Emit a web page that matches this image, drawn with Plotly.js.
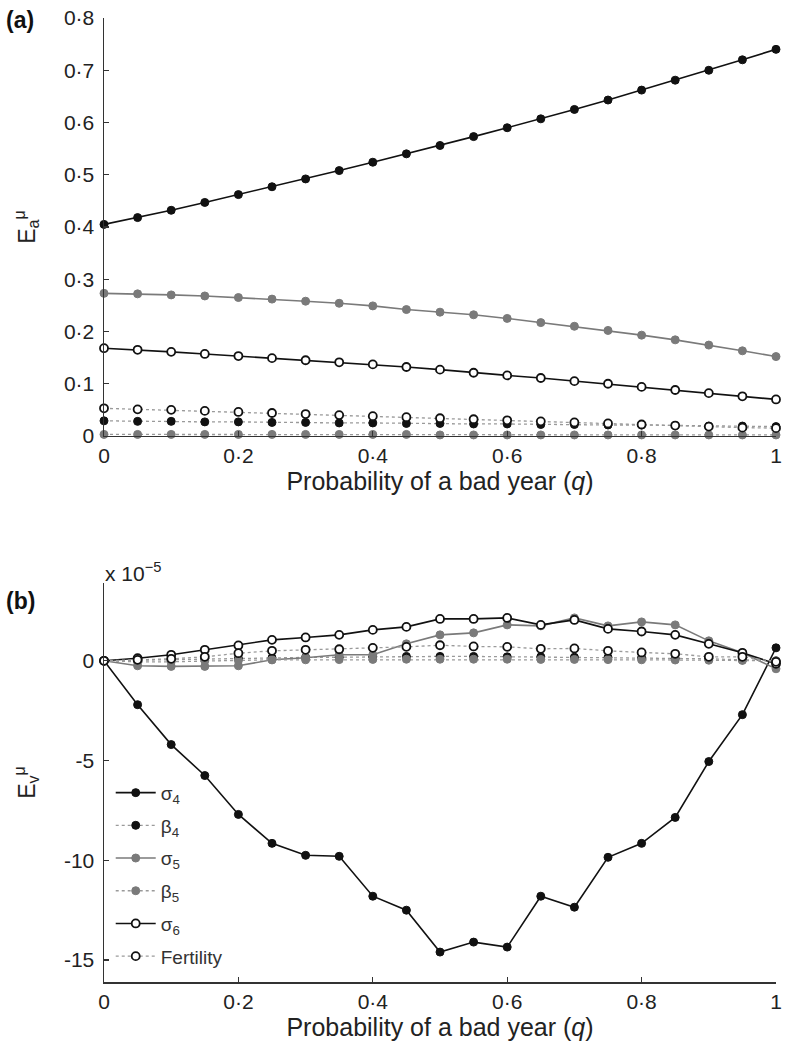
<!DOCTYPE html>
<html>
<head>
<meta charset="utf-8">
<script src="https://cdn.plot.ly/plotly-3.0.1.min.js"></script>
<style>html,body{margin:0;padding:0;background:#fff;}#chart{width:788px;height:1050px;}</style>
</head>
<body>
<div id="chart"></div>
<script>
// Probability of a bad year
const q = [0,0.05,0.1,0.15,0.2,0.25,0.3,0.35,0.4,0.45,0.5,0.55,0.6,0.65,0.7,0.75,0.8,0.85,0.9,0.95,1];

// Panel (a): E^mu_a
const a_sigma4 = [0.405,0.418,0.432,0.447,0.462,0.477,0.492,0.508,0.524,0.540,0.556,0.573,0.590,0.607,0.625,0.643,0.662,0.681,0.700,0.720,0.740];
const a_beta4  = [0.029,0.028,0.028,0.027,0.027,0.026,0.026,0.025,0.025,0.024,0.024,0.023,0.023,0.022,0.022,0.021,0.021,0.020,0.019,0.019,0.018];
const a_sigma5 = [0.273,0.272,0.270,0.268,0.265,0.262,0.258,0.254,0.249,0.242,0.237,0.232,0.225,0.217,0.210,0.202,0.193,0.184,0.174,0.163,0.152];
const a_beta5  = [0.003,0.003,0.003,0.003,0.003,0.003,0.003,0.003,0.003,0.003,0.002,0.002,0.002,0.002,0.002,0.002,0.002,0.002,0.002,0.002,0.002];
const a_sigma6 = [0.168,0.165,0.161,0.157,0.153,0.149,0.145,0.141,0.137,0.132,0.127,0.121,0.116,0.111,0.105,0.100,0.094,0.088,0.082,0.076,0.070];
const a_fert   = [0.053,0.051,0.050,0.048,0.046,0.044,0.042,0.040,0.038,0.036,0.034,0.032,0.030,0.028,0.026,0.024,0.022,0.020,0.018,0.016,0.015];

// Panel (b): E^mu_v (units of 1e-5)
const v_sigma4 = [0,-2.2,-4.2,-5.75,-7.7,-9.15,-9.75,-9.8,-11.8,-12.5,-14.6,-14.1,-14.35,-11.8,-12.35,-9.85,-9.15,-7.85,-5.05,-2.7,0.65];
const v_beta4  = [0,0.03,0.06,0.1,0.12,0.15,0.17,0.18,0.2,0.22,0.22,0.22,0.2,0.2,0.18,0.17,0.15,0.12,0.1,0.05,0];
const v_sigma5 = [0,-0.25,-0.28,-0.28,-0.25,0.05,0.15,0.3,0.3,0.85,1.3,1.4,1.8,1.75,2.15,1.75,1.95,1.8,1.0,0.4,-0.4];
const v_beta5  = [0,-0.05,-0.05,0,0.02,0.05,0.05,0.06,0.07,0.08,0.08,0.08,0.08,0.07,0.07,0.06,0.05,0.04,0.03,0.02,0];
const v_sigma6 = [0,0.13,0.3,0.55,0.77,1.05,1.17,1.3,1.55,1.7,2.1,2.1,2.15,1.8,2.05,1.6,1.47,1.3,0.85,0.4,-0.15];
const v_fert   = [0,0.05,0.1,0.2,0.38,0.5,0.55,0.58,0.65,0.7,0.78,0.72,0.7,0.6,0.62,0.5,0.42,0.35,0.2,0.2,-0.05];

const seriesNames = ['σ<sub>4</sub>','β<sub>4</sub>','σ<sub>5</sub>','β<sub>5</sub>','σ<sub>6</sub>','Fertility'];
const xTickVals = [0,0.2,0.4,0.6,0.8,1];
const xTickText = ['0','0·2','0·4','0·6','0·8','1'];
const yaTickVals = [0,0.1,0.2,0.3,0.4,0.5,0.6,0.7,0.8];
const yaTickText = ['0','0·1','0·2','0·3','0·4','0·5','0·6','0·7','0·8'];
const yvTickVals = [-15,-10,-5,0];
const yvTickText = ['-15','-10','-5','0'];

const BLACK = '#111111', GREY = '#7a7a7a', DOT = '#9a9a9a';
const styles = [
  {line:{color:BLACK,width:1.6,dash:'solid'}, marker:{color:BLACK,size:8,line:{color:BLACK,width:1}}},
  {line:{color:DOT,width:1.3,dash:'dot'}, marker:{color:BLACK,size:8,line:{color:BLACK,width:1}}},
  {line:{color:GREY,width:1.6,dash:'solid'}, marker:{color:GREY,size:8,line:{color:GREY,width:1}}},
  {line:{color:DOT,width:1.3,dash:'dot'}, marker:{color:GREY,size:8,line:{color:GREY,width:1}}},
  {line:{color:BLACK,width:1.6,dash:'solid'}, marker:{color:'#ffffff',size:8,line:{color:BLACK,width:1.8}}},
  {line:{color:DOT,width:1.3,dash:'dot'}, marker:{color:'#ffffff',size:8,line:{color:BLACK,width:1.8}}}
];

const aSeries = [a_sigma4,a_beta4,a_sigma5,a_beta5,a_sigma6,a_fert];
const vSeries = [v_sigma4,v_beta4,v_sigma5,v_beta5,v_sigma6,v_fert];
const drawOrder = [3,2,1,5,4,0];

const traces = [];
drawOrder.forEach(i => {
  traces.push({x:q, y:aSeries[i], xaxis:'x', yaxis:'y', type:'scatter', mode:'lines+markers',
    name:seriesNames[i], showlegend:false, cliponaxis:false,
    line:styles[i].line, marker:Object.assign({symbol:'circle'}, styles[i].marker)});
});
[0,1,2,3,4,5].forEach(i => {
  traces.push({x:q, y:vSeries[i], xaxis:'x2', yaxis:'y2', type:'scatter', mode:'lines+markers',
    name:seriesNames[i], showlegend:true, legendgroup:'g'+i, legendrank:i+1, cliponaxis:false,
    line:styles[i].line, marker:Object.assign({symbol:'circle'}, styles[i].marker)});
});

const FONT = 'Liberation Sans, Arial, Helvetica, sans-serif';
const axisCommon = {showline:true, linecolor:'#333', linewidth:1.5, ticks:'inside', ticklen:5,
  tickcolor:'#333', tickwidth:1.3, showgrid:false, zeroline:false, mirror:false,
  tickfont:{family:FONT, size:21, color:'#222'}};

const layout = {
  width:788, height:1050,
  margin:{l:104, r:12, t:18, b:68},
  paper_bgcolor:'#fff', plot_bgcolor:'#fff',
  font:{family:FONT, color:'#222'},
  showlegend:true,
  legend:{x:0.01, y:0.216, xanchor:'left', yanchor:'top', bgcolor:'rgba(255,255,255,0)',
    traceorder:'grouped', tracegroupgap:5, font:{family:FONT, size:19, color:'#333'}, itemwidth:40},
  xaxis:Object.assign({}, axisCommon, {domain:[0,1], anchor:'y', range:[0,1],
    tickvals:xTickVals, ticktext:xTickText,
    title:{text:'Probability of a bad year (<i>q</i>)', font:{family:FONT,size:25,color:'#222'}, standoff:6}}),
  yaxis:Object.assign({}, axisCommon, {domain:[0.5664,1], anchor:'x', range:[0,0.8],
    tickvals:yaTickVals, ticktext:yaTickText, ticklabelstandoff:4,
    title:{text:'E<sub>a</sub><sup>μ</sup>', font:{family:FONT,size:23,color:'#222'}, standoff:22}}),
  xaxis2:Object.assign({}, axisCommon, {domain:[0,1], anchor:'y2', range:[0,1],
    tickvals:xTickVals, ticktext:xTickText,
    title:{text:'Probability of a bad year (<i>q</i>)', font:{family:FONT,size:25,color:'#222'}, standoff:6}}),
  yaxis2:Object.assign({}, axisCommon, {domain:[0,0.4139], anchor:'x2', range:[-16.1,3.9],
    tickvals:yvTickVals, ticktext:yvTickText, ticklabelstandoff:4,
    title:{text:'E<sub>v</sub><sup>μ</sup>', font:{family:FONT,size:23,color:'#222'}, standoff:22}}),
  annotations:[
    {text:'<b>(a)</b>', xref:'paper', yref:'paper', x:-0.149, y:0.998, xanchor:'left', yanchor:'middle',
      showarrow:false, font:{family:FONT,size:23,color:'#111'}},
    {text:'<b>(b)</b>', xref:'paper', yref:'paper', x:-0.149, y:0.395, xanchor:'left', yanchor:'middle',
      showarrow:false, font:{family:FONT,size:23,color:'#111'}},
    {text:'x 10<sup>−5</sup>', xref:'paper', yref:'paper', x:-0.002, y:0.4253, xanchor:'left', yanchor:'middle',
      showarrow:false, font:{family:FONT,size:21,color:'#222'}}
  ]
};

Plotly.newPlot('chart', traces, layout, {displayModeBar:false, staticPlot:true});
</script>
</body>
</html>
